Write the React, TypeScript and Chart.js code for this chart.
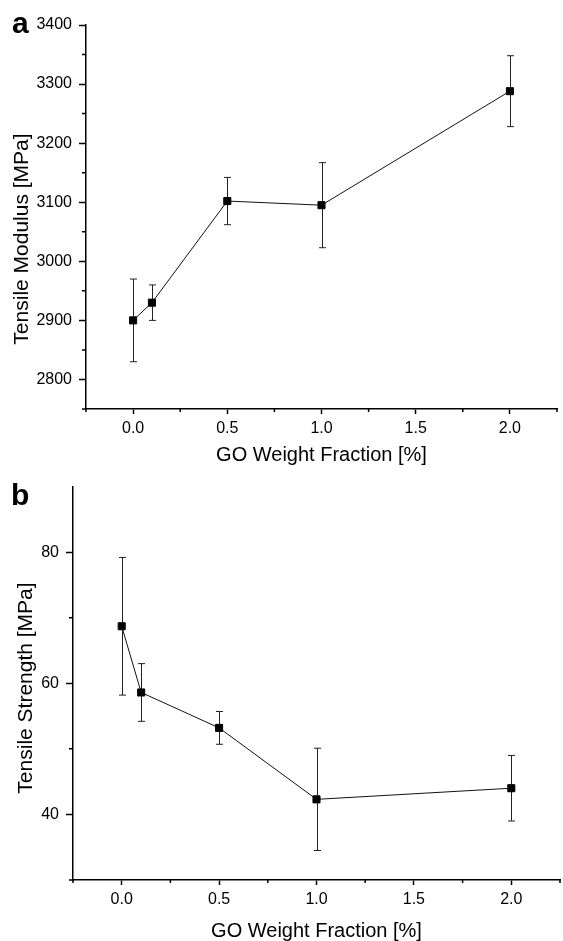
import React, { useEffect, useRef } from "react";
import { Chart, registerables } from "chart.js";

Chart.register(...registerables);

// GO loading (wt %) shared by both panels
const goFraction = [0, 0.1, 0.5, 1.0, 2.0];

// Panel a: tensile modulus (MPa), mean and half-width of the error bar
const modulusMean = [2900, 2930, 3102, 3095, 3288];
const modulusErr = [70, 30, 40, 72, 60];

// Panel b: tensile strength (MPa), mean and half-width of the error bar
const strengthMean = [68.7, 58.6, 53.2, 42.3, 44.0];
const strengthErr = [10.5, 4.4, 2.5, 7.8, 5.0];

// Tick positions (major ones carry labels, the rest are minor)
const xTickValues = [-0.25, 0, 0.25, 0.5, 0.75, 1.0, 1.25, 1.5, 1.75, 2.0, 2.25];
const xMajorTicks = [0, 0.5, 1.0, 1.5, 2.0];
const modulusTickValues = [2750, 2800, 2850, 2900, 2950, 3000, 3050, 3100, 3150, 3200, 3250, 3300, 3350, 3400];
const modulusMajorTicks = [2800, 2900, 3000, 3100, 3200, 3300, 3400];
const strengthTickValues = [30, 40, 50, 60, 70, 80];
const strengthMajorTicks = [40, 60, 80];

const xTitle = "GO Weight Fraction [%]";
const modulusTitle = "Tensile Modulus [MPa]";
const strengthTitle = "Tensile Strength [MPa]";

const FONT = "'Liberation Sans', Arial, Helvetica, sans-serif";
const INK = "#000";

const near = (a: number, list: number[]) => list.some((v) => Math.abs(v - a) < 1e-6);

type PanelSpec = {
  width: number;
  height: number;
  means: number[];
  errs: number[];
  yMin: number;
  yMax: number;
  yTicks: number[];
  yMajor: number[];
  yAxisWidth: number;
  xAxisHeight: number;
  xTitlePad: number;
  padTop: number;
  padRight: number;
};

function errorBarPlugin(means: number[], errs: number[]) {
  return {
    id: "errorBars",
    beforeDatasetsDraw(chart: any) {
      const xs = chart.scales.x;
      const ys = chart.scales.y;
      const ctx = chart.ctx;
      ctx.save();
      ctx.strokeStyle = "#222";
      ctx.lineWidth = 1;
      goFraction.forEach((g, i) => {
        const x = Math.round(xs.getPixelForValue(g)) + 0.5;
        const yTop = ys.getPixelForValue(means[i] + errs[i]);
        const yBot = ys.getPixelForValue(means[i] - errs[i]);
        ctx.beginPath();
        ctx.moveTo(x, yTop);
        ctx.lineTo(x, yBot);
        ctx.moveTo(x - 3.5, yTop);
        ctx.lineTo(x + 3.5, yTop);
        ctx.moveTo(x - 3.5, yBot);
        ctx.lineTo(x + 3.5, yBot);
        ctx.stroke();
      });
      ctx.restore();
    },
  };
}

function minorTickPlugin(yMajor: number[]) {
  return {
    id: "minorTicks",
    afterDraw(chart: any) {
      const { ctx, chartArea } = chart;
      const xs = chart.scales.x;
      const ys = chart.scales.y;
      ctx.save();
      ctx.strokeStyle = INK;
      ctx.lineWidth = 1.5;
      ctx.beginPath();
      xs.ticks.forEach((t: any) => {
        if (near(t.value, xMajorTicks)) return;
        const x = xs.getPixelForValue(t.value);
        ctx.moveTo(x, chartArea.bottom);
        ctx.lineTo(x, chartArea.bottom + 3);
      });
      ys.ticks.forEach((t: any) => {
        if (near(t.value, yMajor)) return;
        const y = ys.getPixelForValue(t.value);
        ctx.moveTo(chartArea.left, y);
        ctx.lineTo(chartArea.left - 4, y);
      });
      ctx.stroke();
      ctx.restore();
    },
  };
}

function Panel({ spec }: { spec: PanelSpec }) {
  const ref = useRef<HTMLCanvasElement | null>(null);

  useEffect(() => {
    if (!ref.current) return;
    const s = spec;
    const chart = new Chart(ref.current, {
      type: "line",
      data: {
        datasets: [
          {
            data: goFraction.map((g, i) => ({ x: g, y: s.means[i] })),
            borderColor: "#111",
            borderWidth: 1,
            tension: 0,
            pointStyle: "rect",
            pointRadius: 5,
            pointBackgroundColor: INK,
            pointBorderColor: INK,
            pointBorderWidth: 1,
            fill: false,
          },
        ],
      },
      options: {
        responsive: false,
        animation: false,
        devicePixelRatio: 1,
        layout: { padding: { top: s.padTop, right: s.padRight, bottom: 0, left: 0 } },
        plugins: {
          legend: { display: false },
          tooltip: { enabled: false },
        },
        scales: {
          x: {
            type: "linear",
            min: -0.25,
            max: 2.25,
            afterBuildTicks: (scale: any) => {
              scale.ticks = xTickValues.map((v) => ({ value: v }));
            },
            afterFit: (scale: any) => {
              scale.height = s.xAxisHeight;
            },
            ticks: {
              autoSkip: false,
              maxRotation: 0,
              padding: 5,
              color: INK,
              font: { family: FONT, size: 16 },
              callback: (v: any) => (near(Number(v), xMajorTicks) ? Number(v).toFixed(1) : ""),
            },
            grid: {
              drawOnChartArea: false,
              drawTicks: true,
              tickLength: 5,
              tickWidth: 1.5,
              tickColor: (c: any) =>
                c.tick && near(c.tick.value, xMajorTicks) ? INK : "rgba(0,0,0,0)",
            },
            border: { display: true, color: INK, width: 1.5 },
            title: {
              display: true,
              text: xTitle,
              color: INK,
              font: { family: FONT, size: 20 },
              padding: { top: 0, bottom: s.xTitlePad },
            },
          },
          y: {
            type: "linear",
            min: s.yMin,
            max: s.yMax,
            afterBuildTicks: (scale: any) => {
              scale.ticks = s.yTicks.map((v) => ({ value: v }));
            },
            afterFit: (scale: any) => {
              scale.width = s.yAxisWidth;
            },
            ticks: {
              autoSkip: false,
              padding: 7,
              color: INK,
              font: { family: FONT, size: 16 },
              callback: (v: any) => (near(Number(v), s.yMajor) ? String(v) : ""),
            },
            grid: {
              drawOnChartArea: false,
              drawTicks: true,
              tickLength: 7,
              tickWidth: 1.5,
              tickColor: (c: any) =>
                c.tick && near(c.tick.value, s.yMajor) ? INK : "rgba(0,0,0,0)",
            },
            border: { display: true, color: INK, width: 1.5 },
            title: { display: false },
          },
        },
      } as any,
      plugins: [errorBarPlugin(s.means, s.errs), minorTickPlugin(s.yMajor)],
    });
    return () => chart.destroy();
  }, [spec]);

  return (
    <canvas
      ref={ref}
      width={spec.width}
      height={spec.height}
      style={{ display: "block", width: spec.width, height: spec.height }}
    />
  );
}

const panelA: PanelSpec = {
  width: 563,
  height: 470,
  means: modulusMean,
  errs: modulusErr,
  yMin: 2750,
  yMax: 3400,
  yTicks: modulusTickValues,
  yMajor: modulusMajorTicks,
  yAxisWidth: 86,
  xAxisHeight: 61,
  xTitlePad: 2.5,
  padTop: 25,
  padRight: 0,
};

const panelB: PanelSpec = {
  width: 566,
  height: 480,
  means: strengthMean,
  errs: strengthErr,
  yMin: 30,
  yMax: 90,
  yTicks: strengthTickValues,
  yMajor: strengthMajorTicks,
  yAxisWidth: 73,
  xAxisHeight: 70,
  xTitlePad: 6.5,
  padTop: 13,
  padRight: 1.5,
};

const letterStyle: React.CSSProperties = {
  position: "absolute",
  fontFamily: FONT,
  fontWeight: "bold",
  fontSize: 30,
  lineHeight: "30px",
  color: INK,
};

// Rotated y-axis title centred on (cx, cy)
function YTitle({ text, cx, cy }: { text: string; cx: number; cy: number }) {
  const w = 320;
  const h = 26;
  return (
    <div
      style={{
        position: "absolute",
        left: cx - w / 2,
        top: cy - h / 2,
        width: w,
        height: h,
        lineHeight: `${h}px`,
        textAlign: "center",
        fontFamily: FONT,
        fontSize: 21,
        color: INK,
        whiteSpace: "nowrap",
        transform: "rotate(-90deg)",
        transformOrigin: "50% 50%",
      }}
    >
      {text}
    </div>
  );
}

export default function App() {
  return (
    <div
      style={{
        position: "absolute",
        left: 0,
        top: 0,
        width: 563,
        height: 941,
        overflow: "hidden",
        background: "#fff",
      }}
    >
      <div style={{ position: "absolute", left: 0, top: 0 }}>
        <Panel spec={panelA} />
      </div>
      <div style={{ position: "absolute", left: 0, top: 470 }}>
        <Panel spec={panelB} />
      </div>
      <YTitle text={modulusTitle} cx={21.3} cy={239} />
      <YTitle text={strengthTitle} cx={24.7} cy={688} />
      <div style={{ ...letterStyle, left: 12, top: 8 }}>a</div>
      <div style={{ ...letterStyle, left: 11, top: 480 }}>b</div>
    </div>
  );
}
